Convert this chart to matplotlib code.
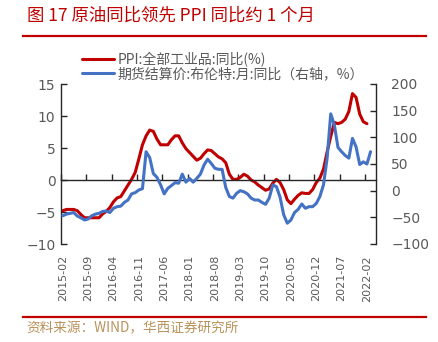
import matplotlib
matplotlib.use('Agg')
import matplotlib.pyplot as plt
from matplotlib.lines import Line2D
import numpy as np
import pandas as pd

plt.rcParams['font.family'] = ['DejaVu Sans']
CJK = ['Noto Sans CJK SC', 'DejaVu Sans']

# ---------------- data ----------------
months = pd.date_range('2015-02', periods=87, freq='MS').strftime('%Y-%m').tolist()

ppi = [-4.8, -4.6, -4.6, -4.6, -4.8, -5.4, -5.9, -5.9, -5.9, -5.9, -5.9,
       -5.3, -4.9, -4.3, -3.4, -2.8, -2.6, -1.7, -0.8, 0.1, 1.2, 3.3, 5.5,
       6.9, 7.8, 7.6, 6.4, 5.5, 5.5, 5.5, 6.3, 6.9, 6.9, 5.8, 4.9,
       4.3, 3.7, 3.1, 3.4, 4.1, 4.7, 4.6, 4.1, 3.6, 3.3, 2.7, 0.9,
       0.1, 0.1, 0.4, 0.9, 0.6, 0.0, -0.3, -0.8, -1.2, -1.6, -1.4, -0.5,
       0.1, -0.4, -1.5, -3.1, -3.7, -3.0, -2.4, -2.0, -2.1, -2.1, -1.5, -0.4,
       0.3, 1.7, 4.4, 6.8, 9.0, 8.8, 9.0, 9.5, 10.7, 13.5, 12.9, 10.3,
       9.1, 8.8]

brent = [-47, -44, -42.5, -41, -47.5, -51, -55, -53, -47, -44, -42.5,
         -39, -38, -41, -33, -30, -29, -22, -17.5, -6, -3.7, 1.3, 3.8,
         73, 62, 32, 25, 11, -6, 4.4, 9.5, 15, 14, 31, 16,
         23, 16, 23, 31, 48, 59, 51, 42, 40, 40, 6, -11,
         -14, -5, 0, -2, -6, -14, -17.5, -17.5, -22, -25.6, -14, 10.8,
         7.5, -12, -45, -61, -55, -41, -35, -25, -33, -30, -30, -24,
         -11, 11, 61, 144, 123, 81, 73, 66, 61, 98, 82, 49,
         54, 50, 73]

tick_labels = ['2015-02', '2015-09', '2016-04', '2016-11', '2017-06', '2018-01',
               '2018-08', '2019-03', '2019-10', '2020-05', '2020-12', '2021-07',
               '2022-02']

title = '图 17 原油同比领先 PPI 同比约 1 个月'
label_ppi = 'PPI:全部工业品:同比(%)'
label_brent = '期货结算价:布伦特:月:同比（右轴，%）'
source = '资料来源：WIND，华西证券研究所'

RED = '#C00000'
BLUE = '#4472C4'
GREY = '#595959'

# ---------------- figure ----------------
W, H = 439, 342
fig = plt.figure(figsize=(W / 100, H / 100), dpi=100)
ax = fig.add_axes([61 / W, 1 - 244 / H, (376 - 61) / W, 160 / H])
ax2 = ax.twinx()

x = np.arange(len(months))
l1, = ax.plot(x[:len(ppi)], ppi, color=RED, lw=2.2, label=label_ppi,
              solid_capstyle='round', solid_joinstyle='round')
l2, = ax2.plot(x[:len(brent)], brent, color=BLUE, lw=2.2, label=label_brent,
               solid_capstyle='round', solid_joinstyle='round')

ax.set_xlim(-0.5, len(months) - 0.5)
ax.set_ylim(-10, 15)
ax.set_yticks(np.arange(-10, 16, 5))
ax2.set_ylim(-100, 200)
ax2.set_yticks(np.arange(-100, 201, 50))

# spines
for s in ['top', 'right']:
    ax.spines[s].set_visible(False)
for s in ['top', 'bottom', 'left']:
    ax2.spines[s].set_visible(False)
ax.spines['bottom'].set_position(('data', 0))
ax.spines['bottom'].set_color('#262626')
ax.spines['left'].set_color('#262626')
ax2.spines['right'].set_color('#262626')
for sp in [ax.spines['bottom'], ax.spines['left'], ax2.spines['right']]:
    sp.set_linewidth(1.0)

# x ticks at category boundaries on the zero line
ax.set_xticks(np.arange(-0.5, len(months) - 0.5, 7))
ax.tick_params(axis='x', direction='in', length=4, width=1, color='#262626',
               labelbottom=False)
# x labels at category centres along the bottom
sec = ax.secondary_xaxis(0)
label_pos = [months.index(t) for t in tick_labels]
sec.set_xticks(label_pos, tick_labels)
sec.tick_params(axis='x', length=0, pad=8, labelsize=8, labelcolor=GREY,
                labelrotation=90)
sec.spines['bottom'].set_visible(False)

ax.tick_params(axis='y', direction='in', length=4, width=1, color='#262626',
               pad=4, labelsize=10, labelcolor=GREY)
ax2.tick_params(axis='y', direction='in', length=4, width=1, color='#262626',
                pad=11, labelsize=10, labelcolor=GREY)

# legend
leg = fig.legend(handles=[l1, l2], loc='center left',
                 bbox_to_anchor=(82 / W, 1 - 66.5 / H), frameon=False,
                 prop={'family': CJK, 'size': 10}, handlelength=2.3,
                 handletextpad=0.25, labelspacing=0.02, borderpad=0,
                 borderaxespad=0)
for t in leg.get_texts():
    t.set_color(GREY)

# title, rules, source
fig.text(27 / W, 1 - 16 / H, title, color=RED, fontsize=12.5, family=CJK,
         ha='left', va='center')
fig.add_artist(Line2D([23 / W, 426 / W], [1 - 36 / H, 1 - 36 / H],
                      transform=fig.transFigure, color=RED, lw=1.6))
fig.add_artist(Line2D([23 / W, 426 / W], [1 - 317 / H, 1 - 317 / H],
                      transform=fig.transFigure, color=RED, lw=1.6))
fig.text(26 / W, 1 - 328 / H, source, color='#B8925A', fontsize=9.8, family=CJK,
         ha='left', va='center')

fig.savefig('out.png', dpi=100)
